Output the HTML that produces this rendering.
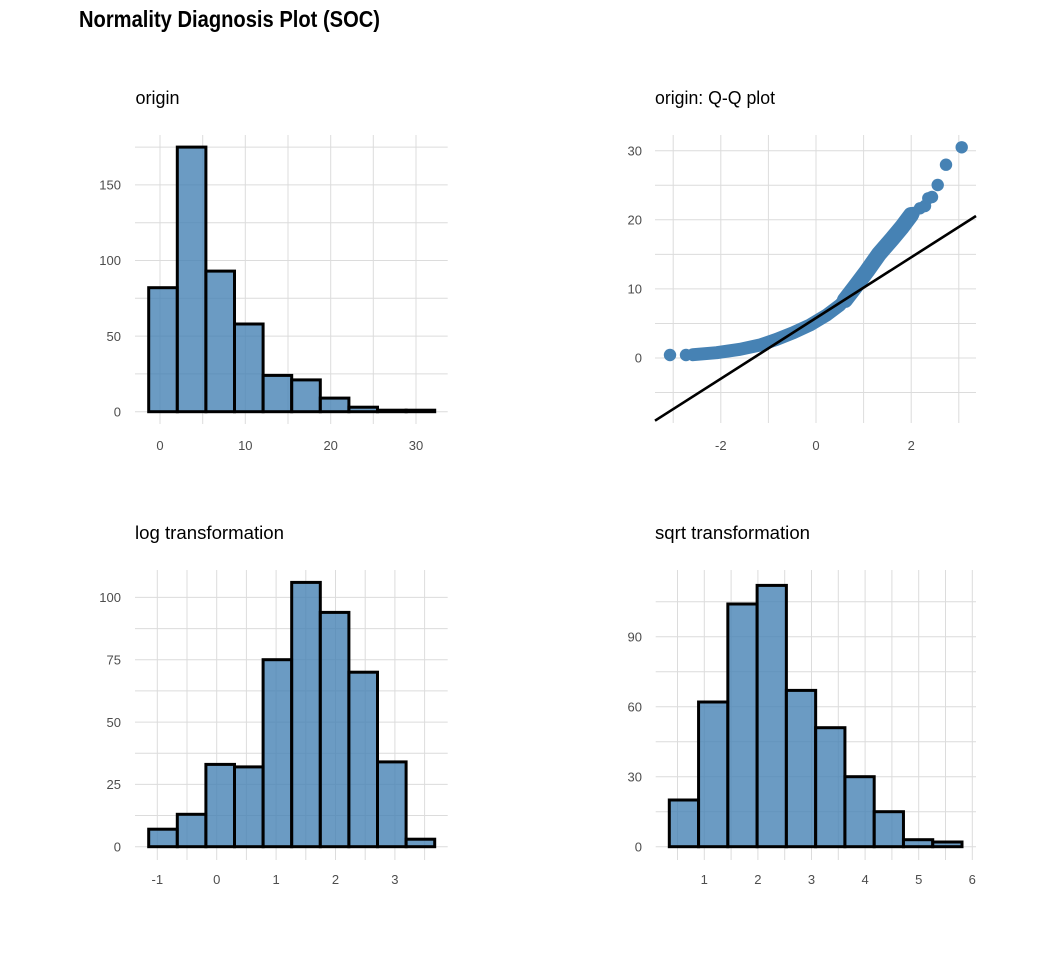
<!DOCTYPE html>
<html><head><meta charset="utf-8"><style>
html,body{margin:0;padding:0;background:#fff;}
svg{display:block;}
text{font-family:"Liberation Sans",sans-serif;}
.t{fill:#4d4d4d;font-size:13px;}
.g{stroke:#dcdcdc;stroke-width:1;fill:none;}
.b{fill:#4682B4;fill-opacity:0.8;stroke:#000;stroke-width:3;}
</style></head><body>
<svg width="1056" height="960" viewBox="0 0 1056 960" xmlns="http://www.w3.org/2000/svg">
<rect width="1056" height="960" fill="#fff"/>
<text x="79" y="27" font-size="23" font-weight="bold" fill="#000" textLength="301" lengthAdjust="spacingAndGlyphs">Normality Diagnosis Plot (SOC)</text>

<!-- Panel 1 -->
<text x="135.5" y="104" font-size="18" fill="#000" textLength="44" lengthAdjust="spacingAndGlyphs">origin</text>
<g class="g">
<path d="M135 411.7H447.7M135 373.9H447.7M135 336.1H447.7M135 298.3H447.7M135 260.5H447.7M135 222.7H447.7M135 184.9H447.7M135 147.1H447.7"/>
<path d="M160 135V424M202.7 135V424M245.3 135V424M288 135V424M330.7 135V424M373.3 135V424M416 135V424"/>
</g>
<g class="b">
<rect x="148.7" y="287.7" width="28.6" height="124"/>
<rect x="177.3" y="147.1" width="28.6" height="264.6"/>
<rect x="205.9" y="271.1" width="28.6" height="140.6"/>
<rect x="234.5" y="324" width="28.6" height="87.7"/>
<rect x="263.1" y="375.4" width="28.6" height="36.3"/>
<rect x="291.7" y="379.9" width="28.6" height="31.8"/>
<rect x="320.3" y="398.1" width="28.6" height="13.6"/>
<rect x="348.9" y="407.2" width="28.6" height="4.5"/>
<rect x="377.5" y="410.2" width="28.6" height="1.5"/>
<rect x="406.1" y="410.2" width="28.6" height="1.5"/>
</g>
<g class="t" text-anchor="end">
<text x="121" y="416.4">0</text>
<text x="121" y="340.8">50</text>
<text x="121" y="265.2">100</text>
<text x="121" y="189.6">150</text>
</g>
<g class="t" text-anchor="middle">
<text x="160" y="450">0</text>
<text x="245.3" y="450">10</text>
<text x="330.7" y="450">20</text>
<text x="416" y="450">30</text>
</g>

<!-- Panel 2 -->
<text x="655" y="104" font-size="18" fill="#000" textLength="120" lengthAdjust="spacingAndGlyphs">origin: Q-Q plot</text>
<g class="g">
<path d="M655 150.7H976M655 185.25H976M655 219.8H976M655 254.35H976M655 288.9H976M655 323.45H976M655 358H976M655 392.55H976"/>
<path d="M673.2 135V423M720.8 135V423M768.4 135V423M816 135V423M863.6 135V423M911.2 135V423M958.8 135V423"/>
</g>
<g fill="#4682B4">
<polyline points="693,354.7 716.7,352.7 740,349.3 760,345 776.7,339.3 793.3,332.7 810,325 826.7,315 840,305 853.3,290 866.7,273.3 880,253.3 893.3,238.3 903.3,226.7 913.3,213.3" fill="none" stroke="#4682B4" stroke-width="13" stroke-linecap="round" stroke-linejoin="round"/>
<polyline points="845,300 855,287 867,271 879,254 892,239 902,227 911,215" fill="none" stroke="#4682B4" stroke-width="16" stroke-linecap="round" stroke-linejoin="round"/>
<circle cx="670" cy="355" r="6.2"/>
<circle cx="686" cy="355" r="6.2"/>
<circle cx="920" cy="208.3" r="6.2"/>
<circle cx="925" cy="206" r="6.2"/>
<circle cx="928.3" cy="198.3" r="6.2"/>
<circle cx="932" cy="197" r="6.2"/>
<circle cx="937.7" cy="185" r="6.2"/>
<circle cx="946" cy="164.7" r="6.2"/>
<circle cx="961.7" cy="147.3" r="6.2"/>
</g>
<line x1="655" y1="420.7" x2="976" y2="216" stroke="#000" stroke-width="2.6"/>
<g class="t" text-anchor="end">
<text x="642" y="362.7">0</text>
<text x="642" y="293.6">10</text>
<text x="642" y="224.5">20</text>
<text x="642" y="155.4">30</text>
</g>
<g class="t" text-anchor="middle">
<text x="720.8" y="450">-2</text>
<text x="816" y="450">0</text>
<text x="911.2" y="450">2</text>
</g>

<!-- Panel 3 -->
<text x="135" y="539" font-size="18" fill="#000" textLength="149" lengthAdjust="spacingAndGlyphs">log transformation</text>
<g class="g">
<path d="M135 846.7H447.7M135 815.5H447.7M135 784.4H447.7M135 753.2H447.7M135 722.1H447.7M135 690.9H447.7M135 659.7H447.7M135 628.6H447.7M135 597.4H447.7"/>
<path d="M157.3 570V860M187 570V860M216.7 570V860M246.4 570V860M276.1 570V860M305.8 570V860M335.5 570V860M365.2 570V860M394.9 570V860M424.6 570V860"/>
</g>
<g class="b">
<rect x="148.7" y="829.2" width="28.6" height="17.5"/>
<rect x="177.3" y="814.3" width="28.6" height="32.4"/>
<rect x="205.9" y="764.4" width="28.6" height="82.3"/>
<rect x="234.5" y="766.9" width="28.6" height="79.8"/>
<rect x="263.1" y="659.7" width="28.6" height="187"/>
<rect x="291.7" y="582.4" width="28.6" height="264.3"/>
<rect x="320.3" y="612.4" width="28.6" height="234.3"/>
<rect x="348.9" y="672.2" width="28.6" height="174.5"/>
<rect x="377.5" y="761.9" width="28.6" height="84.8"/>
<rect x="406.1" y="839.2" width="28.6" height="7.5"/>
</g>
<g class="t" text-anchor="end">
<text x="121" y="851.4">0</text>
<text x="121" y="789.1">25</text>
<text x="121" y="726.8">50</text>
<text x="121" y="664.4">75</text>
<text x="121" y="602.1">100</text>
</g>
<g class="t" text-anchor="middle">
<text x="157.3" y="884">-1</text>
<text x="216.7" y="884">0</text>
<text x="276.1" y="884">1</text>
<text x="335.5" y="884">2</text>
<text x="394.9" y="884">3</text>
</g>

<!-- Panel 4 -->
<text x="655" y="539" font-size="18" fill="#000" textLength="155" lengthAdjust="spacingAndGlyphs">sqrt transformation</text>
<g class="g">
<path d="M655.7 846.7H976M655.7 811.7H976M655.7 776.7H976M655.7 741.7H976M655.7 706.7H976M655.7 671.7H976M655.7 636.7H976M655.7 601.7H976"/>
<path d="M677.5 570V860M704.3 570V860M731.1 570V860M757.9 570V860M784.7 570V860M811.5 570V860M838.3 570V860M865.1 570V860M891.9 570V860M918.7 570V860M945.5 570V860M972.3 570V860"/>
</g>
<g class="b">
<rect x="669.3" y="800" width="29.27" height="46.7"/>
<rect x="698.57" y="702" width="29.27" height="144.7"/>
<rect x="727.84" y="604" width="29.27" height="242.7"/>
<rect x="757.11" y="585.4" width="29.27" height="261.3"/>
<rect x="786.38" y="690.4" width="29.27" height="156.3"/>
<rect x="815.65" y="727.7" width="29.27" height="119"/>
<rect x="844.92" y="776.7" width="29.27" height="70"/>
<rect x="874.19" y="811.7" width="29.27" height="35"/>
<rect x="903.46" y="839.7" width="29.27" height="7"/>
<rect x="932.73" y="842" width="29.27" height="4.7"/>
</g>
<g class="t" text-anchor="end">
<text x="642" y="851.4">0</text>
<text x="642" y="781.4">30</text>
<text x="642" y="711.4">60</text>
<text x="642" y="641.4">90</text>
</g>
<g class="t" text-anchor="middle">
<text x="704.3" y="884">1</text>
<text x="757.9" y="884">2</text>
<text x="811.5" y="884">3</text>
<text x="865.1" y="884">4</text>
<text x="918.7" y="884">5</text>
<text x="972.3" y="884">6</text>
</g>
</svg>
</body></html>
